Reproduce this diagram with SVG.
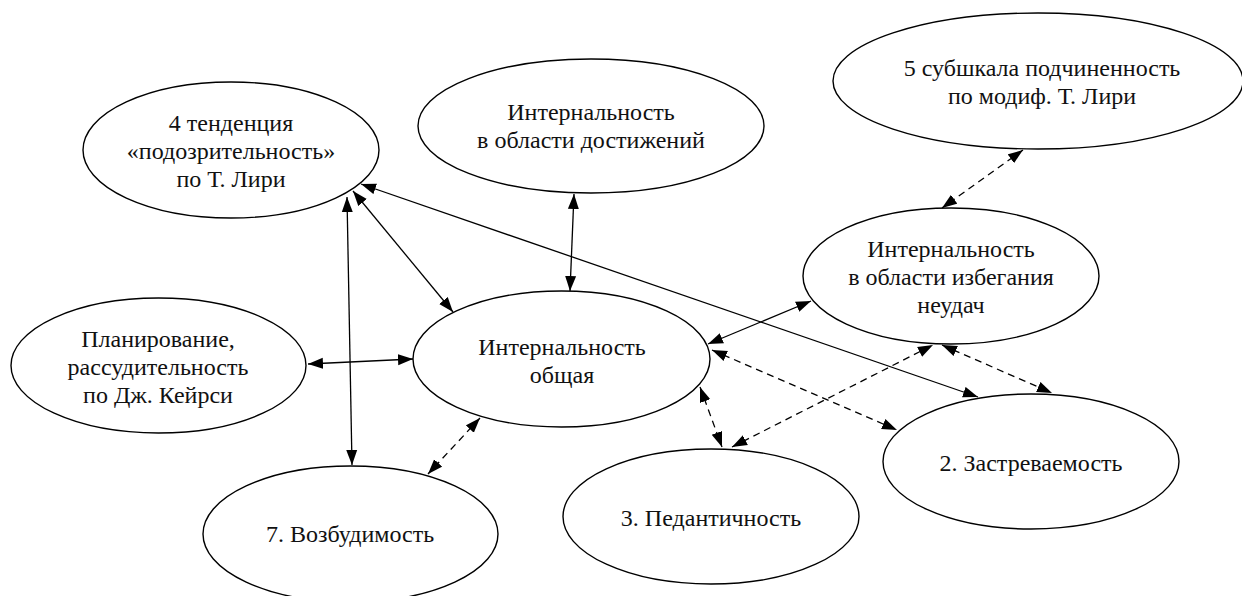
<svg xmlns="http://www.w3.org/2000/svg" width="1242" height="596" viewBox="0 0 1242 596">
<style>
.node ellipse{fill:#fff;stroke:#000;stroke-width:1.4}
.node text{font-size:24px;fill:#111;text-anchor:middle}
.edges line{stroke:#000;stroke-width:1.3;fill:none;marker-start:url(#ah);marker-end:url(#ah)}
.edges line.d{stroke-dasharray:7 5}
</style>
<defs>
<marker id="ah" markerUnits="userSpaceOnUse" markerWidth="16" markerHeight="12" refX="15" refY="5.5" orient="auto-start-reverse" viewBox="0 0 16 11">
<path d="M0,0 L15,5.5 L0,11 z" fill="#000"/>
</marker>
</defs>
<rect width="1242" height="596" fill="#fff"/>
<g font-family="Liberation Serif, DejaVu Serif, serif">
<g id="n-tend4" class="node"><ellipse cx="231" cy="150" rx="148" ry="68"/>
<text x="231" y="131">4 тенденция</text><text x="231" y="159">«подозрительность»</text><text x="231" y="187">по Т. Лири</text></g>
<g id="n-dost" class="node"><ellipse cx="591" cy="126" rx="173" ry="67"/>
<text x="591" y="120">Интернальность</text><text x="591" y="148">в области достижений</text></g>
<g id="n-sub5" class="node"><ellipse cx="1038" cy="81" rx="205" ry="68"/>
<text x="1042" y="76">5 субшкала подчиненность</text><text x="1042" y="104">по модиф. Т. Лири</text></g>
<g id="n-izb" class="node"><ellipse cx="951" cy="276" rx="148" ry="68"/>
<text x="951" y="257">Интернальность</text><text x="951" y="285">в области избегания</text><text x="951" y="313">неудач</text></g>
<g id="n-plan" class="node"><ellipse cx="158.5" cy="365.5" rx="147.5" ry="67.5"/>
<text x="158" y="347">Планирование,</text><text x="158" y="375">рассудительность</text><text x="158" y="403">по Дж. Кейрси</text></g>
<g id="n-obsh" class="node"><ellipse cx="561.5" cy="359" rx="148.5" ry="68"/>
<text x="562" y="355">Интернальность</text><text x="562" y="383">общая</text></g>
<g id="n-voz" class="node"><ellipse cx="350.5" cy="534" rx="147.5" ry="68"/>
<text x="350" y="542">7. Возбудимость</text></g>
<g id="n-ped" class="node"><ellipse cx="711" cy="516.5" rx="148" ry="67.5"/>
<text x="711" y="526">3. Педантичность</text></g>
<g id="n-zas" class="node"><ellipse cx="1031" cy="461.5" rx="148" ry="67.5"/>
<text x="1031" y="471">2. Застреваемость</text></g>
</g>
<g id="edges" class="edges">
<line x1="361" y1="184" x2="978" y2="397"/>
<line x1="353" y1="191" x2="453" y2="312"/>
<line x1="347" y1="197" x2="352" y2="465"/>
<line x1="308" y1="364" x2="413" y2="359"/>
<line x1="574" y1="194" x2="570" y2="291"/>
<line x1="708" y1="344" x2="811" y2="301"/>
<line class="d" x1="1023" y1="150" x2="942" y2="208"/>
<line class="d" x1="712" y1="350" x2="897" y2="430"/>
<line class="d" x1="700" y1="387" x2="722" y2="447"/>
<line class="d" x1="732" y1="447" x2="933" y2="345"/>
<line class="d" x1="942" y1="345" x2="1052" y2="393"/>
<line class="d" x1="480" y1="418" x2="428" y2="474"/>
</g>
</svg>
